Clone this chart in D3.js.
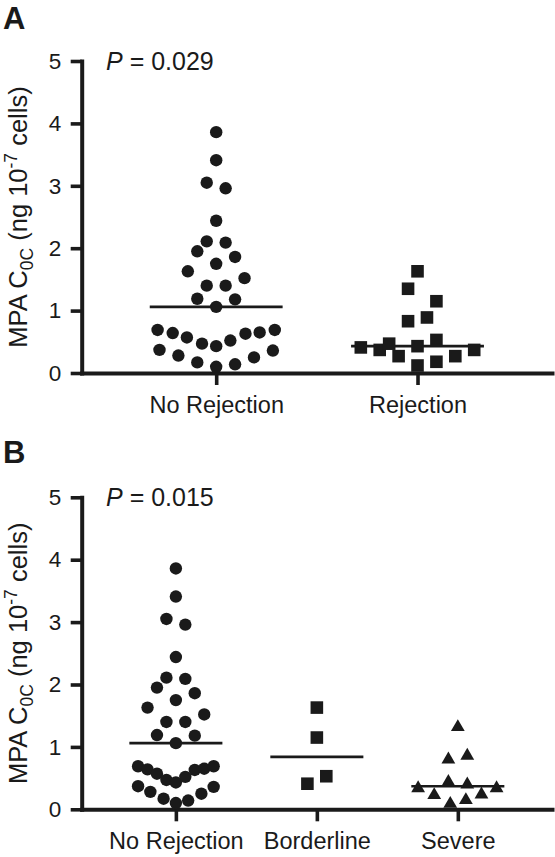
<!DOCTYPE html>
<html>
<head>
<meta charset="utf-8">
<script src="https://cdn.jsdelivr.net/npm/d3@7"></script>
<style>
  body { margin: 0; background: #fff; }
  svg { display: block; }
  text { font-family: "Liberation Sans", Arial, Helvetica, sans-serif; fill: #1a1a1a; }
</style>
</head>
<body>
<svg id="chart" width="555" height="857"></svg>
<script>
// ---------------- DATA ----------------
const categoriesA = ["No Rejection", "Rejection"];
const categoriesB = ["No Rejection", "Borderline", "Severe"];
const yTicks = [0, 1, 2, 3, 4, 5];
const pValues = ["0.029", "0.015"];
const panelLetters = ["A", "B"];

// MPA C0C values (ng 10^-7 cells)
const noRejection = [3.86, 3.41, 3.05, 2.96, 2.44, 2.11, 2.09, 1.95, 1.86, 1.75, 1.63, 1.52, 1.40, 1.40, 1.19, 1.18, 1.06,
                     0.69, 0.64, 0.57, 0.47, 0.43, 0.52, 0.63, 0.65, 0.69,
                     0.37, 0.28, 0.17, 0.10, 0.14, 0.25, 0.36];
// swarm column of each point (as placed in the figure)
const noRejectionColA = [0, 0, -1, 1, 0, -1, 1, -2, 2, 0, -3, 3, -1, 1, -2, 2, 0,
                         -6.2, -4.6, -3.1, -1.5, 0, 1.5, 3.1, 4.6, 6.2,
                         -6, -4, -2, 0, 2, 4, 6];
const noRejectionColB = [0, 0, -1, 1, 0, -1, 1, -2, 2, 0, -3, 3, -1, 1, -2, 2, 0,
                         -4, -3, -2, -1, 0, 1, 2, 3, 4,
                         -4, -2.7, -1.3, 0, 1.3, 2.7, 4];

const rejection    = [1.63, 1.35, 1.15, 0.83, 0.89, 0.41, 0.37, 0.47, 0.27, 0.43, 0.53, 0.18, 0.12, 0.27, 0.37];
const rejectionCol = [0, -1, 2, -1, 1, -6, -4, -3, -2, 0, 2, 2, 0, 4, 6];

const borderline    = [1.63, 1.15, 0.53, 0.41];
const borderlineCol = [0, 0, 1, -1];

const severe    = [1.35, 0.83, 0.89, 0.47, 0.43, 0.37, 0.37, 0.26, 0.27, 0.18, 0.12];
const severeCol = [0, -1, 1, -1, 1, -4.2, 4.1, -2.5, 2.5, 0.85, -0.8];

// ---------------- DRAWING ----------------
const ink = "#1a1a1a";
const svg = d3.select("#chart");
const plotLeft = 81.7, plotRight = 552;
const swarm = d3.scaleLinear().domain([0, 1]).range([0, 9.45]);

const symTriangle = {
  draw(ctx, size) {
    const s = Math.sqrt(size), h = s * 0.86;
    ctx.moveTo(0, -h / 2);
    ctx.lineTo(s / 2, h / 2);
    ctx.lineTo(-s / 2, h / 2);
    ctx.closePath();
  }
};
const shapes = {
  circle: d3.symbol().type(d3.symbolCircle).size(Math.PI * 6.2 * 6.2),
  square: d3.symbol().type(d3.symbolSquare).size(12.6 * 12.6),
  triangle: d3.symbol().type(symTriangle).size(13.8 * 13.8)
};

function drawPanel(cfg) {
  const g = svg.append("g");
  const y = d3.scaleLinear().domain([0, 5]).range([cfg.bottom, cfg.top]);
  const x = d3.scalePoint().domain(cfg.categories).range([plotLeft, plotRight]).padding(0.668);

  // y axis
  const ya = g.append("g").attr("transform", `translate(${plotLeft},0)`)
    .call(d3.axisLeft(y).tickValues(yTicks).tickSize(11).tickPadding(9.5).tickSizeOuter(0).tickFormat(d3.format("d")));
  // x axis
  const xa = g.append("g").attr("transform", `translate(0,${cfg.bottom})`)
    .call(d3.axisBottom(x).tickSize(12).tickPadding(11.5).tickSizeOuter(0));

  [ya, xa].forEach(a => {
    a.select(".domain").attr("stroke", ink).attr("stroke-width", 4).attr("stroke-linecap", "square");
    a.selectAll(".tick line").attr("stroke", ink).attr("stroke-width", 3.6);
    a.selectAll(".tick text").attr("fill", ink).style("font-family", '"Liberation Sans", Arial, sans-serif');
  });
  ya.selectAll(".tick text").style("font-size", "22.5px");
  xa.selectAll(".tick text").style("font-size", "23.5px");

  // y axis title
  const t = g.append("text")
    .attr("transform", `translate(27,${(cfg.top + cfg.bottom) / 2}) rotate(-90)`)
    .attr("text-anchor", "middle")
    .style("font-size", "25.5px");
  t.append("tspan").text("MPA C");
  t.append("tspan").attr("dy", 6).style("font-size", "17.5px").text("0C");
  t.append("tspan").attr("dy", -6).text(" (ng 10");
  t.append("tspan").attr("dy", -10).style("font-size", "17.5px").text("-7");
  t.append("tspan").attr("dy", 10).text(" cells)");

  // P value
  const p = g.append("text").attr("x", 106).attr("y", cfg.top + 9).style("font-size", "25px");
  p.append("tspan").style("font-style", "italic").text("P");
  p.append("tspan").text(" = " + cfg.p);

  // panel letter
  g.append("text").attr("x", 3).attr("y", cfg.letterY)
    .style("font-size", "31px").style("font-weight", "bold").text(cfg.letter);

  // groups
  cfg.groups.forEach(gr => {
    const cx = x(gr.cat);
    const halfW = x.step() * 0.33;
    const med = d3.median(gr.values);
    g.append("line")
      .attr("x1", cx - halfW).attr("x2", cx + halfW)
      .attr("y1", y(med)).attr("y2", y(med))
      .attr("stroke", ink).attr("stroke-width", 2.6);
    g.append("g").selectAll("path").data(gr.values).join("path")
      .attr("d", shapes[gr.shape])
      .attr("fill", ink)
      .attr("transform", (d, i) => `translate(${cx + swarm(gr.cols[i])},${y(d)})`);
  });
}

drawPanel({
  top: 61, bottom: 373, categories: categoriesA, p: pValues[0], letter: panelLetters[0], letterY: 29.3,
  groups: [
    { cat: "No Rejection", values: noRejection, cols: noRejectionColA, shape: "circle" },
    { cat: "Rejection", values: rejection, cols: rejectionCol, shape: "square" }
  ]
});
drawPanel({
  top: 497.3, bottom: 809.3, categories: categoriesB, p: pValues[1], letter: panelLetters[1], letterY: 462.7,
  groups: [
    { cat: "No Rejection", values: noRejection, cols: noRejectionColB, shape: "circle" },
    { cat: "Borderline", values: borderline, cols: borderlineCol, shape: "square" },
    { cat: "Severe", values: severe, cols: severeCol, shape: "triangle" }
  ]
});
</script>
</body>
</html>
